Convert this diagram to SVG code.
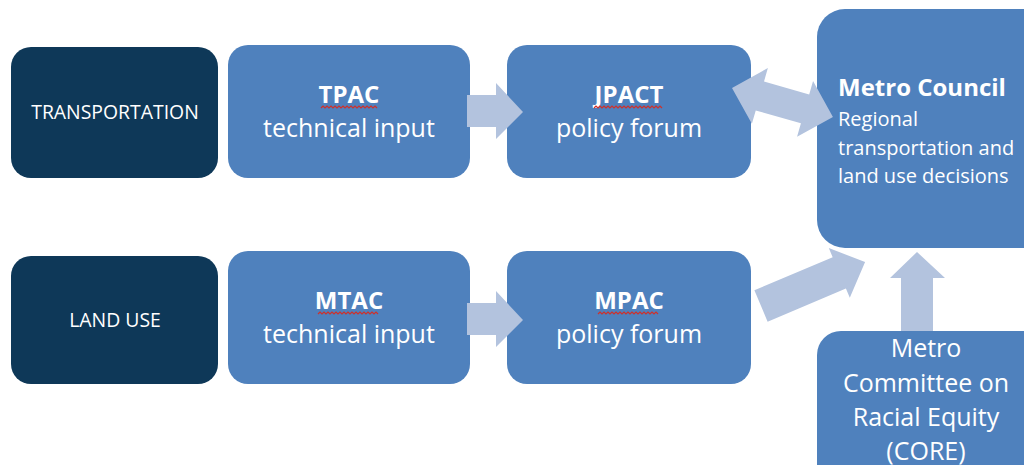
<svg xmlns="http://www.w3.org/2000/svg" width="1024" height="465" viewBox="0 0 1024 465">
<style>
.dark{fill:#0e3858}
.box{fill:#4f81bd}
.arr{fill:#b3c3de}
text{fill:#ffffff;font-family:"Open Sans","Liberation Sans",sans-serif}
.lbl{font-size:19.4px;text-anchor:middle}
.t{font-size:25px;text-anchor:middle}
.tb{font-size:24px;text-anchor:middle;font-weight:bold}
.mc{font-size:20px}
.sq{fill:none;stroke:#d0302a;stroke-width:1.2}
</style>
<rect width="1024" height="465" fill="#ffffff"/>
<g id="transportation">
<rect class="dark" x="11" y="47" width="207" height="131" rx="20"/>
<text class="lbl" x="115" y="119">TRANSPORTATION</text>
</g>
<g id="tpac">
<rect class="box" x="228" y="45" width="242" height="133" rx="20"/>
<text class="tb" x="349" y="103">TPAC</text>
<path class="sq" d="M321,108 l2,-2 l2,2 l2,-2 l2,2 l2,-2 l2,2 l2,-2 l2,2 l2,-2 l2,2 l2,-2 l2,2 l2,-2 l2,2 l2,-2 l2,2 l2,-2 l2,2 l2,-2 l2,2 l2,-2 l2,2 l2,-2 l2,2 l2,-2 l2,2 l2,-2 l2,2"/>
<text class="t" x="349" y="137">technical input</text>
</g>
<g id="jpact">
<rect class="box" x="507" y="45" width="244" height="133" rx="20"/>
<text class="tb" x="629" y="103">JPACT</text>
<path class="sq" d="M594,108 l2,-2 l2,2 l2,-2 l2,2 l2,-2 l2,2 l2,-2 l2,2 l2,-2 l2,2 l2,-2 l2,2 l2,-2 l2,2 l2,-2 l2,2 l2,-2 l2,2 l2,-2 l2,2 l2,-2 l2,2 l2,-2 l2,2 l2,-2 l2,2 l2,-2 l2,2 l2,-2 l2,2 l2,-2 l2,2 l2,-2 l2,2"/>
<text class="t" x="629" y="137">policy forum</text>
</g>
<g id="metro-council">
<rect class="box" x="817" y="9" width="240" height="239" rx="28"/>
<text class="mc" x="838" y="96" style="font-size:24px;font-weight:bold">Metro Council</text>
<text class="mc" x="838" y="126">Regional</text>
<text class="mc" x="838" y="155">transportation and</text>
<text class="mc" x="838" y="183">land use decisions</text>
</g>
<g id="land-use">
<rect class="dark" x="11" y="256" width="207" height="128" rx="20"/>
<text class="lbl" x="115" y="327">LAND USE</text>
</g>
<g id="mtac">
<rect class="box" x="228" y="251" width="242" height="133" rx="20"/>
<text class="tb" x="349" y="309">MTAC</text>
<path class="sq" d="M318,314 l2,-2 l2,2 l2,-2 l2,2 l2,-2 l2,2 l2,-2 l2,2 l2,-2 l2,2 l2,-2 l2,2 l2,-2 l2,2 l2,-2 l2,2 l2,-2 l2,2 l2,-2 l2,2 l2,-2 l2,2 l2,-2 l2,2 l2,-2 l2,2 l2,-2 l2,2 l2,-2 l2,2"/>
<text class="t" x="349" y="343">technical input</text>
</g>
<g id="mpac">
<rect class="box" x="507" y="251" width="244" height="133" rx="20"/>
<text class="tb" x="629" y="309">MPAC</text>
<path class="sq" d="M598,314 l2,-2 l2,2 l2,-2 l2,2 l2,-2 l2,2 l2,-2 l2,2 l2,-2 l2,2 l2,-2 l2,2 l2,-2 l2,2 l2,-2 l2,2 l2,-2 l2,2 l2,-2 l2,2 l2,-2 l2,2 l2,-2 l2,2 l2,-2 l2,2 l2,-2 l2,2 l2,-2 l2,2"/>
<text class="t" x="629" y="343">policy forum</text>
</g>
<g id="core">
<rect class="box" x="817" y="331" width="240" height="170" rx="24"/>
<text class="t" x="926" y="357">Metro</text>
<text class="t" x="926" y="392">Committee on</text>
<text class="t" x="926" y="426">Racial Equity</text>
<text class="t" x="926" y="460">(CORE)</text>
</g>
<g id="connectors">
<polygon class="arr" points="467,95 496,95 496,83 523,112 496,139 496,127 467,127"/>
<polygon class="arr" points="467,303 496,303 496,291 523,320 496,347 496,335 467,335"/>
<g transform="translate(732,88) rotate(16.0)">
<polygon class="arr" points="0,0 29,-29 29,-15 76,-15 76,-29 105,0 76,29 76,15 29,15 29,29"/>
</g>
<g transform="translate(761,306) rotate(-22.9)">
<polygon class="arr" points="0,-17 85,-17 85,-27 113,0 85,27 85,17 0,17"/>
</g>
<polygon class="arr" points="901,331 901,278 890,278 917,252 945,278 933,278 933,331"/>
</g>
</svg>
